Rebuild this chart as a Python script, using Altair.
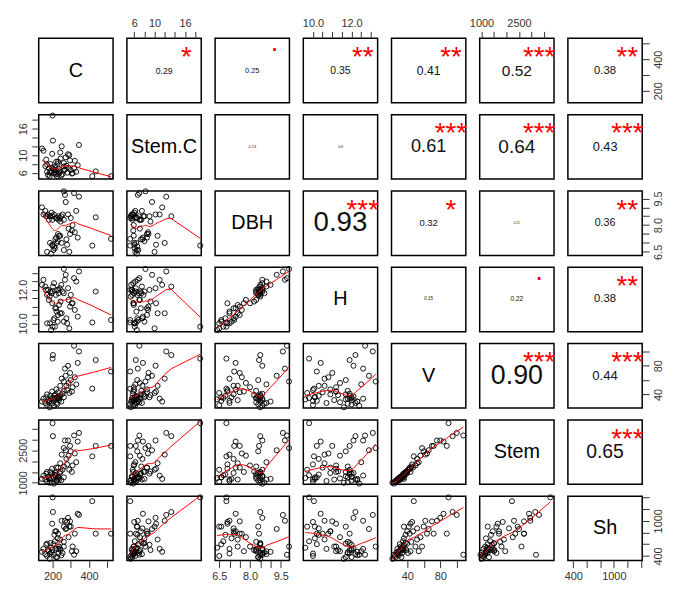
import json
import altair as alt
import pandas as pd

FONT = "Liberation Sans"

names = ["C", "Stem.C", "DBH", "H", "V", "Stem", "Sh"]
keys = ["C", "StemC", "DBH", "H", "V", "Stem", "Sh"]

C = [184, 208, 170, 225, 195, 160, 222, 180, 142, 248, 205, 175, 236, 192, 218, 150, 233, 213, 198, 165,
     228, 240, 188, 210, 244, 215, 255, 292, 230, 198, 262, 280, 220, 418, 310, 276, 330, 288, 262, 300,
     250, 322, 272, 296, 521, 268, 285, 338, 437, 200, 202, 345, 318, 186, 232, 170, 242, 262, 306]
StemC = [5.3, 5.8, 6.2, 5.2, 6.0, 7.5, 6.4, 7.0, 11.5, 5.4, 6.8, 5.5, 5.9, 6.5, 5.6, 11.0, 6.9, 6.1, 7.2, 9.0,
         8.0, 6.3, 8.0, 6.6, 9.2, 7.3, 5.7, 10.0, 8.5, 10.3, 7.4, 6.0, 8.5, 5.2, 5.9, 7.6, 6.2, 7.1, 8.2, 6.6,
         12.0, 8.7, 9.5, 8.8, 5.2, 6.7, 10.2, 7.7, 6.3, 19.0, 13.3, 12.3, 7.0, 6.0, 5.6, 7.8, 10.6, 6.5, 5.8]
DBH = [8.5, 8.6, 6.5, 8.4, 8.7, 8.8, 7.0, 8.3, 9.0, 8.5, 6.6, 8.6, 7.4, 6.4, 8.4, 8.6, 8.5, 6.7, 8.3, 8.5,
       7.1, 8.4, 8.5, 6.8, 8.2, 7.2, 8.6, 6.5, 7.5, 6.9, 8.3, 6.9, 7.3, 6.85, 8.0, 7.2, 8.8, 7.8, 9.9, 8.4,
       7.0, 7.6, 9.3, 7.5, 7.23, 9.7, 8.6, 7.3, 8.44, 6.85, 8.5, 9.6, 9.8, 7.0, 8.3, 8.5, 7.4, 6.6, 7.7]
H = [11.6, 12.4, 10.0, 12.0, 11.8, 12.2, 10.7, 11.4, 12.3, 12.3, 10.2, 12.0, 11.1, 9.6, 11.7, 12.6, 11.8, 9.8, 11.9, 12.0,
     10.1, 12.1, 11.9, 10.3, 11.3, 10.9, 11.9, 9.7, 10.5, 11.2, 11.8, 10.0, 10.9, 10.05, 11.2, 10.3, 12.5, 11.4, 13.25, 11.7,
     10.6, 10.8, 12.9, 11.0, 10.2, 12.6, 12.1, 10.4, 11.9, 9.8, 12.2, 13.1, 12.7, 10.0, 12.0, 11.7, 10.6, 10.1, 11.2]
V = [22, 24, 25, 26, 27, 28, 28, 29, 30, 30, 31, 32, 32, 33, 33, 34, 34, 35, 35, 36,
     36, 37, 38, 38, 39, 40, 41, 42, 43, 44, 45, 46, 47, 48, 50, 52, 54, 56, 58, 60,
     62, 64, 66, 70, 72, 76, 80, 84, 88, 90, 95, 100, 108, 31, 35, 40, 52, 36, 44]
Stem = [1000, 960, 1050, 1100, 1020, 1150, 1080, 1200, 1180, 1120, 1250, 1280, 1150, 1220, 1300, 1330, 1240, 1350, 1400, 1420,
        1180, 1450, 1500, 1380, 1520, 1450, 1600, 1600, 1700, 1650, 1750, 1850, 1700, 2220, 1800, 2100, 1950, 2250, 2600, 2450,
        2300, 2350, 2500, 2700, 2700, 2950, 2950, 2900, 2700, 3750, 3150, 3300, 3180, 1150, 1280, 1500, 1900, 1250, 1500]
Sh = [350, 420, 400, 380, 460, 430, 520, 480, 470, 410, 600, 500, 560, 540, 380, 520, 450, 650, 500, 590,
      700, 530, 620, 760, 500, 820, 450, 900, 780, 950, 640, 980, 820, 1335, 560, 870, 480, 720, 560, 900,
      1000, 780, 860, 990, 780, 1000, 1050, 1120, 780, 1400, 1150, 1100, 420, 440, 520, 610, 680, 900, 480]

df = pd.DataFrame({"C": C, "StemC": StemC, "DBH": DBH, "H": H, "V": V, "Stem": Stem, "Sh": Sh})

domains = {"C": [124, 532], "StemC": [4.55, 19.2], "DBH": [6.3, 9.92], "H": [9.5, 13.35],
           "V": [21, 111], "Stem": [930, 3900], "Sh": [320, 1420]}
tick_values = {"C": [200, 300, 400, 500], "StemC": [6, 8, 10, 12, 14, 16, 18],
               "DBH": [6.5, 7.0, 7.5, 8.0, 8.5, 9.0, 9.5], "H": [10.0, 10.5, 11.0, 11.5, 12.0, 12.5, 13.0],
               "V": [40, 60, 80, 100], "Stem": [1000, 1500, 2000, 2500, 3000, 3500],
               "Sh": [400, 600, 800, 1000, 1200, 1400]}
tick_labels = {"C": [200, 400], "StemC": [6, 10, 16], "DBH": [6.5, 8.0, 9.5], "H": [10.0, 12.0],
               "V": [40, 80], "Stem": [1000, 2500], "Sh": [400, 1000]}
formats = {"C": "d", "StemC": "d", "DBH": ".1f", "H": ".1f", "V": "d", "Stem": "d", "Sh": "d"}

# upper panels: |r| and significance stars
cor_row = [0, 0, 0, 0, 0, 0, 1, 1, 1, 1, 1, 2, 2, 2, 2, 3, 3, 3, 4, 4, 5]
cor_col = [1, 2, 3, 4, 5, 6, 2, 3, 4, 5, 6, 3, 4, 5, 6, 4, 5, 6, 5, 6, 6]
cor_r = [0.29, 0.25, 0.35, 0.41, 0.52, 0.38, 0.13, 0.09, 0.61, 0.64, 0.43, 0.93, 0.32, 0.11, 0.36,
         0.15, 0.22, 0.38, 0.90, 0.44, 0.65]
cor_sig = ["*", ".", "**", "**", "***", "**", "", "", "***", "***", "***", "***", "*", "", "**",
           "", ".", "**", "***", "***", "***"]

PW, PH = 75, 65
INK = "#333333"


def make_axis(k, orient):
    expr = "indexof(" + json.dumps(tick_labels[k]) + ", datum.value) >= 0 ? datum.label : ''"
    kw = dict(orient=orient, values=tick_values[k], format=formats[k], labelExpr=expr, title=None,
              domain=False, grid=False, ticks=True, tickSize=7, tickColor=INK, tickWidth=1,
              labelFontSize=11, labelColor=INK, labelFont=FONT, labelPadding=3,
              labelOverlap=False, labelFlush=False)
    if orient == "left":
        kw.update(labelAngle=270, labelAlign="center", labelBaseline="bottom")
    elif orient == "right":
        kw.update(labelAngle=270, labelAlign="center", labelBaseline="top")
    else:
        kw.update(labelAngle=0, labelAlign="center")
    return alt.Axis(**kw)


def x_enc(i, j):
    k = keys[j]
    ax = None
    if i == 0 and j % 2 == 1:
        ax = make_axis(k, "top")
    elif i == 6 and j % 2 == 0:
        ax = make_axis(k, "bottom")
    sc = alt.Scale(domain=domains[k], nice=False, zero=False)
    return alt.X(k + ":Q", scale=sc, axis=ax)


def y_enc(i, j):
    k = keys[i]
    ax = None
    if j == 0 and i % 2 == 1:
        ax = make_axis(k, "left")
    elif j == 6 and i % 2 == 0:
        ax = make_axis(k, "right")
    sc = alt.Scale(domain=domains[k], nice=False, zero=False)
    return alt.Y(k + ":Q", scale=sc, axis=ax)


unit = alt.Scale(domain=[0, 1], nice=False, zero=False)


def ux(v):
    return alt.XDatum(v, type="quantitative", scale=unit, axis=None)


def uy(v):
    return alt.YDatum(v, type="quantitative", scale=unit, axis=None)


panels = []
for i in range(7):
    for j in range(7):
        base = alt.Chart(df)
        if i > j:
            pts = base.mark_point(filled=False, color="black", size=26, strokeWidth=0.9, opacity=1).encode(
                x=x_enc(i, j), y=y_enc(i, j))
            line = base.mark_line(color="red", strokeWidth=1, clip=True).transform_loess(
                keys[j], keys[i], bandwidth=0.66).encode(x=x_enc(i, j), y=y_enc(i, j))
            panel = alt.layer(pts, line)
        else:
            ghost = base.mark_point(opacity=0).encode(x=x_enc(i, j), y=y_enc(i, j))
            layers = [ghost]
            if i == j:
                lab = alt.Chart(pd.DataFrame({"name": [names[i]]})).mark_text(
                    font=FONT, fontSize=20, color="black", align="center", baseline="middle").encode(
                    x=ux(0.5), y=uy(0.5), text="name:N")
                layers.append(lab)
            else:
                idx = [n for n in range(len(cor_row)) if cor_row[n] == i and cor_col[n] == j][0]
                r = cor_r[idx]
                sig = cor_sig[idx]
                tdf = pd.DataFrame({"r": [r], "txt": ["%.2f" % r]})
                txt = alt.Chart(tdf).mark_text(font=FONT, color="#111111", align="center",
                                               baseline="middle").encode(
                    x=ux(0.5), y=uy(0.5), text="txt:N",
                    size=alt.Size("r:Q", scale=alt.Scale(domain=[0, 1], range=[0, 30]), legend=None))
                layers.append(txt)
                if sig:
                    sdf = pd.DataFrame({"sig": [sig]})
                    star = alt.Chart(sdf).mark_text(font=FONT, fontSize=28, color="red", align="center",
                                                    baseline="middle", dy=(-8 if sig == "." else 7)).encode(
                        x=ux(0.8), y=uy(0.8), text="sig:N")
                    layers.append(star)
            panel = alt.layer(*layers).resolve_scale(x="independent", y="independent")
        panels.append(panel.properties(
            width=PW, height=PH,
            view=alt.ViewBackground(stroke="#000000", strokeWidth=1.5, fill="white")))

chart = alt.ConcatChart(
    concat=panels, columns=7, spacing={"row": 12, "column": 14}, bounds="flush"
).properties(
    padding={"left": 9, "top": 6, "right": 2, "bottom": 2},
    background="white",
).configure_view(
    stroke="#000000", strokeWidth=1.5
).configure(font=FONT)

chart.save("out.html", embed_options={"renderer": "svg", "actions": False})
